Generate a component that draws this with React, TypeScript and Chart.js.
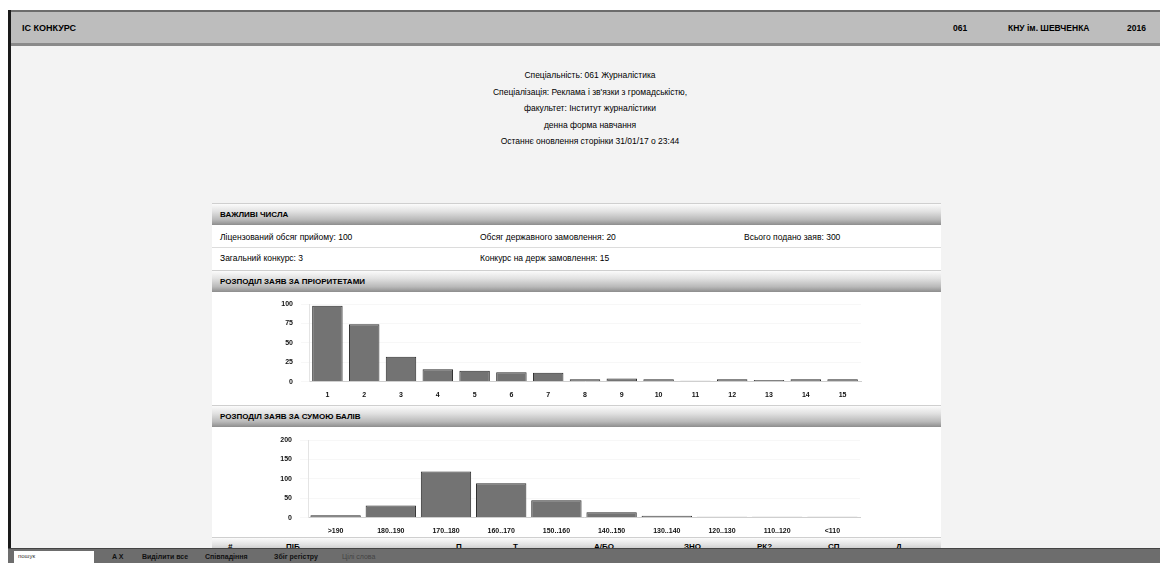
import React, { useEffect, useRef } from "react";
import { Chart, registerables } from "chart.js";

Chart.register(...registerables);

const priorityLabels = ["1", "2", "3", "4", "5", "6", "7", "8", "9", "10", "11", "12", "13", "14", "15"];
const priorityValues = [98, 74, 32, 16, 14, 12, 11.5, 3, 4, 3, 1, 3, 2, 3, 3];
const priorityTicks = [0, 25, 50, 75, 100];

const scoreLabels = [">190", "180..190", "170..180", "160..170", "150..160", "140..150", "130..140", "120..130", "110..120", "<110"];
const scoreValues = [6, 31, 119, 89, 45, 14, 5, 2, 2, 2];
const scoreTicks = [0, 50, 100, 150, 200];

const titleLines = [
  "Спеціальність: 061 Журналістика",
  "Спеціалізація: Реклама і зв'язки з громадськістю,",
  "факультет: Інститут журналістики",
  "денна форма навчання",
  "Останнє оновлення сторінки 31/01/17 о 23:44",
];

const tableCols = ["#", "ПІБ", "П", "Т", "А/БО", "ЗНО", "РК?", "СП", "Д"];
const tableColX = [228, 286, 456, 513, 594, 684, 757, 828, 896];

const FONT = "'Liberation Sans', Arial, sans-serif";

function BarChart(props: { labels: string[]; values: number[]; ticks: number[]; max: number; catPct: number; barPct: number }) {
  const ref = useRef<HTMLCanvasElement | null>(null);
  useEffect(() => {
    if (!ref.current) return;
    const chart = new Chart(ref.current, {
      type: "bar",
      data: {
        labels: props.labels,
        datasets: [
          {
            data: props.values,
            backgroundColor: "#737373",
            borderColor: "#2b2b2b",
            borderWidth: 1,
            categoryPercentage: props.catPct,
            barPercentage: props.barPct,
          },
        ],
      },
      options: {
        animation: false,
        responsive: false,
        maintainAspectRatio: false,
        layout: { padding: { top: 5, right: 10, bottom: 0, left: 0 } },
        plugins: { legend: { display: false }, tooltip: { enabled: false } },
        scales: {
          x: {
            grid: { display: false },
            border: { color: "#cfcfcf" },
            ticks: { color: "#111", font: { family: FONT, size: 7, weight: "bold" }, padding: 1, maxRotation: 0, autoSkip: false },
          },
          y: {
            min: 0,
            max: props.max,
            afterFit: (scale: any) => {
              scale.width = 38;
            },
            afterBuildTicks: (scale: any) => {
              scale.ticks = props.ticks.map((v) => ({ value: v }));
            },
            grid: { color: "rgba(0,0,0,0.03)" },
            border: { display: true, color: "#e4e4e4" },
            ticks: { color: "#111", font: { family: FONT, size: 7, weight: "bold" }, padding: 8 },
          },
        },
      },
    });
    return () => chart.destroy();
  }, []);
  return <canvas ref={ref} width={600} height={108} style={{ width: 600, height: 108, display: "block" }} />;
}

function SectionHeader(props: { top: number; text: string; height?: number }) {
  return (
    <div
      style={{
        position: "absolute",
        left: 212,
        top: props.top,
        width: 729,
        height: props.height ?? 22,
        background: "linear-gradient(#fbfbfb 0%, #e2e2e2 35%, #b9b9b9 75%, #8d8d8d 100%)",
        borderTop: "1px solid #cfcfcf",
        boxSizing: "border-box",
      }}
    >
      <div style={{ position: "absolute", left: 8, top: 6, fontSize: 8, fontWeight: "bold", color: "#000", fontFamily: FONT, whiteSpace: "nowrap" }}>
        {props.text}
      </div>
    </div>
  );
}

function Txt(props: { x: number; y: number; text: string; size?: number; bold?: boolean; color?: string }) {
  return (
    <div
      style={{
        position: "absolute",
        left: props.x,
        top: props.y,
        fontSize: props.size ?? 8.5,
        fontWeight: props.bold ? "bold" : "normal",
        color: props.color ?? "#000",
        fontFamily: FONT,
        whiteSpace: "nowrap",
        lineHeight: 1,
      }}
    >
      {props.text}
    </div>
  );
}

export default function App() {
  return (
    <div style={{ position: "absolute", left: 0, top: 0, width: 1160, height: 563, overflow: "hidden", background: "#ffffff", fontFamily: FONT }}>
      {/* page background */}
      <div style={{ position: "absolute", left: 11, top: 46, width: 1149, height: 502, background: "#f3f3f3" }} />
      {/* left border */}
      <div style={{ position: "absolute", left: 8, top: 10, width: 3, height: 553, background: "#1a1a1a" }} />
      {/* header bar */}
      <div
        style={{
          position: "absolute",
          left: 11,
          top: 10,
          width: 1149,
          height: 36,
          background: "#bdbdbd",
          borderTop: "2px solid #6c6c6c",
          borderBottom: "3px solid #8a8a8a",
          boxSizing: "border-box",
        }}
      />
      <Txt x={22} y={24} text="ІС КОНКУРС" bold size={9} />
      <Txt x={953} y={24} text="061" bold size={8.5} />
      <Txt x={1008} y={24} text="КНУ ім. ШЕВЧЕНКА" bold size={8.5} />
      <Txt x={1127} y={24} text="2016" bold size={8.5} />

      {/* title */}
      <div style={{ position: "absolute", left: 390, top: 67, width: 400, textAlign: "center", fontFamily: FONT, fontSize: 8.5, color: "#000", lineHeight: "16.5px" }}>
        {titleLines.map((l, i) => (
          <div key={i} style={{ whiteSpace: "nowrap" }}>{l}</div>
        ))}
      </div>

      {/* panel */}
      <div style={{ position: "absolute", left: 212, top: 203, width: 729, height: 345, background: "#ffffff" }} />
      <SectionHeader top={203} text="ВАЖЛИВІ ЧИСЛА" />
      <div style={{ position: "absolute", left: 212, top: 247, width: 729, height: 1, background: "#dcdcdc" }} />
      <Txt x={220} y={233} text="Ліцензований обсяг прийому: 100" />
      <Txt x={480} y={233} text="Обсяг державного замовлення: 20" />
      <Txt x={744} y={233} text="Всього подано заяв: 300" />
      <Txt x={220} y={254} text="Загальний конкурс: 3" />
      <Txt x={480} y={254} text="Конкурс на держ замовлення: 15" />
      <SectionHeader top={270} text="РОЗПОДІЛ ЗАЯВ ЗА ПРІОРИТЕТАМИ" />
      <div style={{ position: "absolute", left: 271, top: 292 }}>
        <BarChart labels={priorityLabels} values={priorityValues} ticks={priorityTicks} max={100} catPct={0.9} barPct={0.92} />
      </div>
      <SectionHeader top={405} text="РОЗПОДІЛ ЗАЯВ ЗА СУМОЮ БАЛІВ" />
      <div style={{ position: "absolute", left: 270, top: 428 }}>
        <BarChart labels={scoreLabels} values={scoreValues} ticks={scoreTicks} max={200} catPct={0.95} barPct={0.96} />
      </div>
      <SectionHeader top={537} text="" height={20} />
      {tableCols.map((c, i) => (
        <Txt key={c} x={tableColX[i]} y={543} text={c} bold size={8} />
      ))}

      {/* status bar */}
      <div style={{ position: "absolute", left: 8, top: 548, width: 1152, height: 15, background: "#6d6d6d", borderTop: "1px solid #444", boxSizing: "border-box" }} />
      <div style={{ position: "absolute", left: 14, top: 551, width: 80, height: 12, background: "#ffffff" }} />
      <Txt x={18} y={553} text="пошук" size={6} color="#333" />
      <Txt x={112} y={553} text="A  X" bold size={7} color="#111" />
      <Txt x={142} y={553} text="Виділити все" bold size={7} color="#111" />
      <Txt x={205} y={553} text="Співпадіння" bold size={7} color="#111" />
      <Txt x={274} y={553} text="Збіг регістру" bold size={7} color="#111" />
      <Txt x={342} y={553} text="Цілі слова" size={7} color="#444" />
    </div>
  );
}
